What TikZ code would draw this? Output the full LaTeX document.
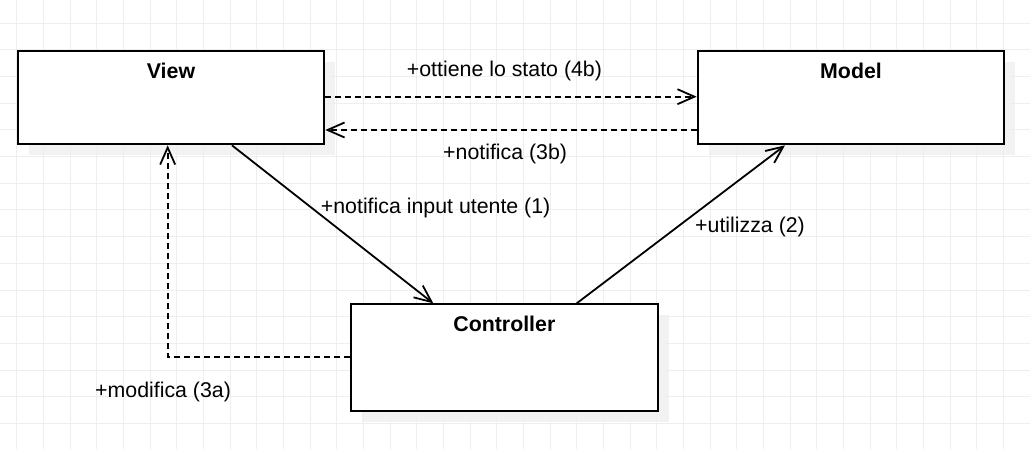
\documentclass[tikz,border=0pt]{standalone}
\usepackage{fontspec}
\setmainfont{Liberation Sans}
\usetikzlibrary{arrows.meta}
\definecolor{gridc}{HTML}{EEEEEE}
\definecolor{shadowc}{HTML}{F0F0F0}
\tikzset{
  umlbox/.style={draw=black, line width=2pt, fill=white, rectangle, inner sep=0pt, anchor=north west},
  boxshadow/.style={fill=shadowc, draw=none, opacity=0.85},
  title/.style={font=\fontsize{21.33}{25}\selectfont\bfseries, inner sep=0pt, anchor=base},
  lbl/.style={font=\fontsize{21.33}{25}\selectfont, inner sep=0pt, anchor=base west},
  conn/.style={line width=1.8pt, -{Straight Barb[length=17pt,width=15pt,line width=1.8pt]}},
  dconn/.style={conn, dash pattern=on 6pt off 4pt},
}
\begin{document}
\begin{tikzpicture}[x=1pt,y=-1pt]
\useasboundingbox (0,0) rectangle (1030,449);
\fill[white] (0,0) rectangle (1030,449);
% grid
\foreach \i in {0,...,38} {
  \draw[gridc, line width=1pt] ({16.67+26.667*\i},0) -- ({16.67+26.667*\i},449);
}
\foreach \j in {0,...,16} {
  \draw[gridc, line width=1pt] (0,{23.33+26.667*\j}) -- (1030,{23.33+26.667*\j});
}
% shadows
\fill[boxshadow] (28.67,62) rectangle (335.3,155.3);
\fill[boxshadow] (708.7,62) rectangle (1015.3,155.3);
\fill[boxshadow] (362,315.3) rectangle (668.7,422);
% boxes
\node[umlbox, minimum width=306.67pt, minimum height=93.33pt] (view) at (16.67,50) {};
\node[umlbox, minimum width=306.67pt, minimum height=93.33pt] (model) at (696.67,50) {};
\node[umlbox, minimum width=306.67pt, minimum height=106.67pt] (ctrl) at (350,303.33) {};
% titles
\node[title] (viewt) at ([yshift=-28.3pt]view.north) {View};
\node[title] (modelt) at ([yshift=-28.3pt]model.north) {Model};
\node[title] (ctrlt) at ([yshift=-27.7pt]ctrl.north) {Controller};
% connectors
\coordinate (vm1) at ([yshift=-46.7pt]view.north east);
\coordinate (vm2) at ([yshift=-46.7pt]model.north west);
\draw[dconn] (vm1) -- (vm2);
\coordinate (mv1) at ([yshift=-80pt]model.north west);
\coordinate (mv2) at ([yshift=-80pt]view.north east);
\draw[dconn] (mv1) -- (mv2);
\coordinate (vc1) at ([xshift=215.3pt]view.south west);
\coordinate (vc2) at ([xshift=83.3pt]ctrl.north west);
\draw[conn] (vc1) -- (vc2);
\coordinate (cm1) at ([xshift=226.7pt]ctrl.north west);
\coordinate (cm2) at ([xshift=88.3pt]model.south west);
\draw[conn] (cm1) -- (cm2);
\coordinate (cv1) at ([yshift=-53.3pt]ctrl.north west);
\coordinate (cv2) at ([xshift=151pt]view.south west);
\draw[dconn] (cv1) -| (cv2);
% labels
\node[lbl] (l4b) at (406.7,76.7) {+ottiene lo stato (4b)};
\node[lbl] (l3b) at (443,160) {+notifica (3b)};
\node[lbl] (l1) at (320.7,213.3) {+notifica input utente (1)};
\node[lbl] (l2) at (695,232.7) {+utilizza (2)};
\node[lbl] (l3a) at (95,397.7) {+modifica (3a)};
\end{tikzpicture}
\end{document}
